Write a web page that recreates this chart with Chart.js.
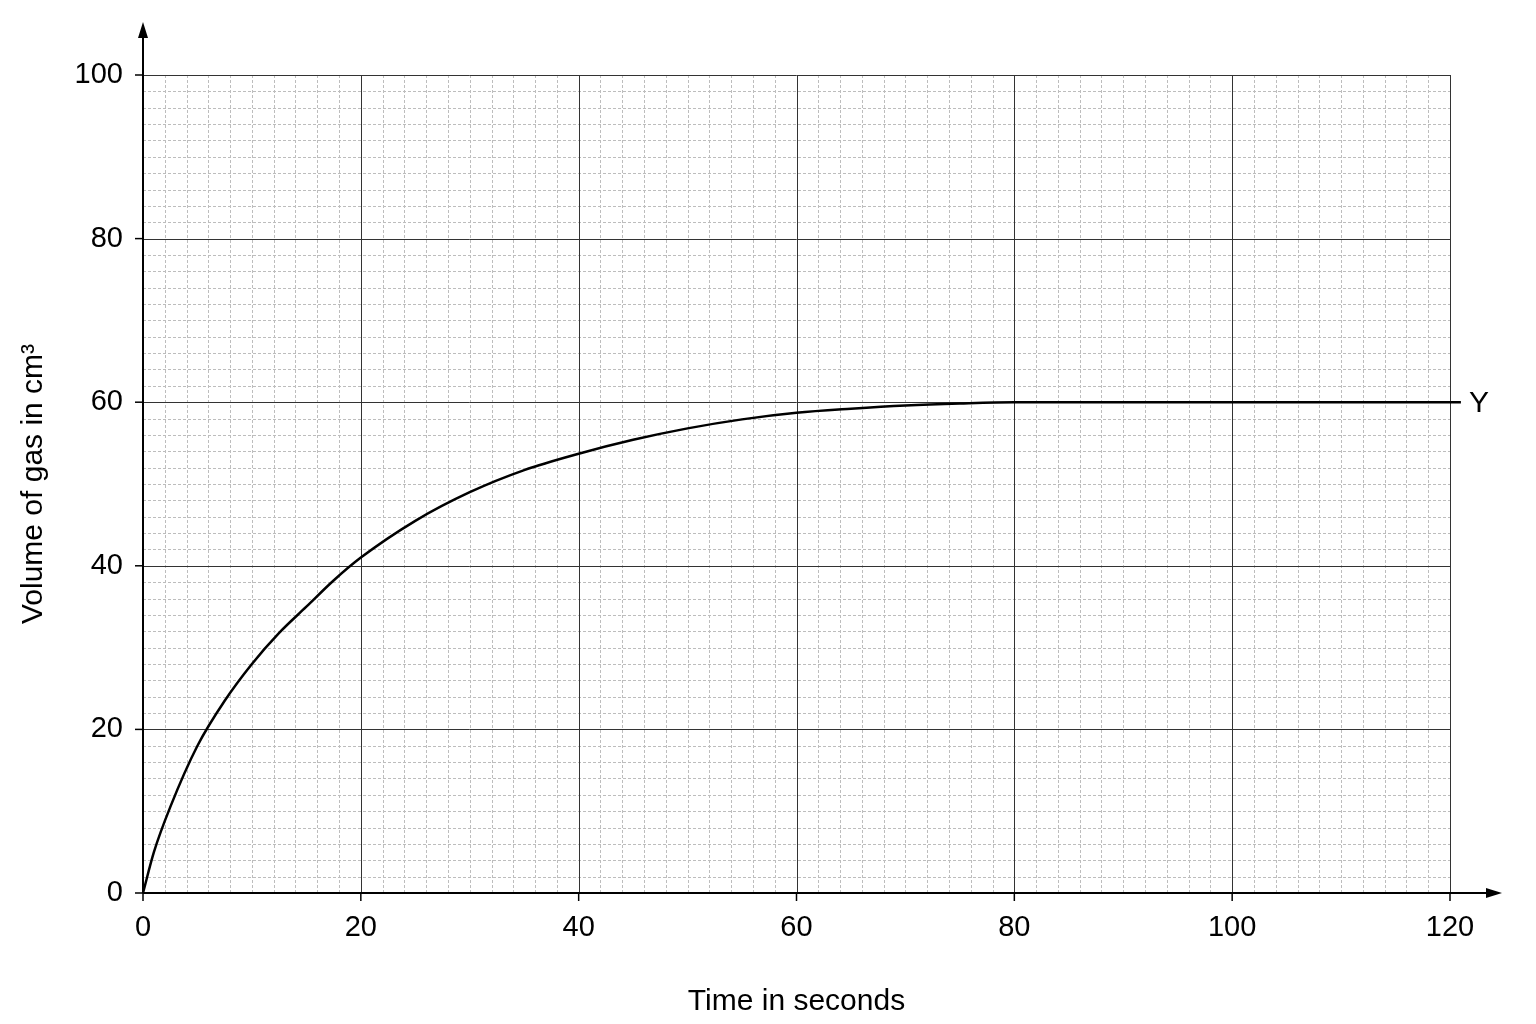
<!DOCTYPE html>
<html><head><meta charset="utf-8">
<script src="https://cdn.jsdelivr.net/npm/chart.js@4"></script>
<style>html,body{margin:0;padding:0;background:#fff}#w{width:1536px;height:1024px}</style>
</head><body><div id="w"><canvas id="c"></canvas></div>
<script>
const timeValues = [0, 1, 2.5, 5, 7.5, 10, 12.5, 15, 17.5, 20, 25, 30, 35, 40, 45, 50, 55, 60, 65, 70, 75, 80, 90, 100, 110, 121];
const volumeValues = [0, 5, 10.5, 18, 23.5, 28, 31.8, 35, 38.2, 41, 45.5, 49, 51.7, 53.7, 55.4, 56.8, 57.9, 58.7, 59.2, 59.6, 59.85, 60, 60, 60, 60, 60];
const xTicks = [0, 20, 40, 60, 80, 100, 120];
const yTicks = [0, 20, 40, 60, 80, 100];
const yTitle = 'Volume of gas in cm³';
const xTitle = 'Time in seconds';
const endLabel = 'Y';

const FONT = 'Liberation Sans, Arial, sans-serif';
const gridPlugin = {
  id: 'paper',
  beforeDatasetsDraw(chart) {
    const {ctx, chartArea: a, scales: {x, y}} = chart;
    ctx.save();
    ctx.lineWidth = 1;
    ctx.strokeStyle = '#bdbdbd';
    ctx.setLineDash([3, 2]);
    for (let v = 2; v < 120; v += 2) {
      if (v % 20 === 0) continue;
      const p = Math.round(x.getPixelForValue(v)) + 0.5;
      ctx.beginPath(); ctx.moveTo(p, a.top); ctx.lineTo(p, a.bottom); ctx.stroke();
    }
    for (let v = 2; v < 100; v += 2) {
      if (v % 20 === 0) continue;
      const p = Math.round(y.getPixelForValue(v)) + 0.5;
      ctx.beginPath(); ctx.moveTo(a.left, p); ctx.lineTo(a.right, p); ctx.stroke();
    }
    ctx.setLineDash([]);
    ctx.strokeStyle = '#333';
    ctx.lineWidth = 1;
    xTicks.forEach(v => { if (v === 0) return; const p = Math.round(x.getPixelForValue(v)) + 0.5;
      ctx.beginPath(); ctx.moveTo(p, a.top); ctx.lineTo(p, a.bottom); ctx.stroke(); });
    yTicks.forEach(v => { if (v === 0) return; const p = Math.round(y.getPixelForValue(v)) + 0.5;
      ctx.beginPath(); ctx.moveTo(a.left, p); ctx.lineTo(a.right, p); ctx.stroke(); });
    ctx.strokeStyle = '#000'; ctx.fillStyle = '#000'; ctx.lineWidth = 2;
    const x0 = x.getPixelForValue(0), y0 = y.getPixelForValue(0);
    ctx.beginPath(); ctx.moveTo(x0, y0); ctx.lineTo(x0, 32); ctx.stroke();
    ctx.beginPath(); ctx.moveTo(x0, 22); ctx.lineTo(x0 - 5, 38); ctx.lineTo(x0 + 5, 38); ctx.closePath(); ctx.fill();
    ctx.beginPath(); ctx.moveTo(x0, y0); ctx.lineTo(1492, y0); ctx.stroke();
    ctx.beginPath(); ctx.moveTo(1502, y0); ctx.lineTo(1486, y0 - 5); ctx.lineTo(1486, y0 + 5); ctx.closePath(); ctx.fill();
    ctx.lineWidth = 1.5;
    xTicks.forEach(v => { const p = x.getPixelForValue(v); ctx.beginPath(); ctx.moveTo(p, y0); ctx.lineTo(p, y0 + 8); ctx.stroke(); });
    yTicks.forEach(v => { const p = y.getPixelForValue(v); ctx.beginPath(); ctx.moveTo(x0 - 8, p); ctx.lineTo(x0, p); ctx.stroke(); });
    ctx.restore();
  },
  afterDatasetsDraw(chart) {
    const {ctx, scales: {x, y}} = chart;
    ctx.save(); ctx.fillStyle = '#000'; ctx.font = '30px ' + FONT; ctx.textBaseline = 'middle';
    ctx.fillText(endLabel, x.getPixelForValue(121) + 8, y.getPixelForValue(60) + 2);
    ctx.restore();
  }
};

new Chart(document.getElementById('c'), {
  type: 'line',
  data: { datasets: [{ data: timeValues.map((t, i) => ({x: t, y: volumeValues[i]})),
    borderColor: '#000', borderWidth: 2.5, pointRadius: 0, cubicInterpolationMode: 'monotone', clip: false }] },
  options: {
    responsive: true, maintainAspectRatio: false, animation: false,
    layout: { padding: { top: 75, right: 86, left: 0, bottom: 0 } },
    plugins: { legend: { display: false }, tooltip: { enabled: false } },
    scales: {
      x: { type: 'linear', min: 0, max: 120,
        afterBuildTicks: s => { s.ticks = xTicks.map(v => ({value: v})); },
        afterFit: s => { s.height = 131; },
        grid: { display: false }, border: { display: false },
        ticks: { color: '#000', font: { size: 29, family: FONT }, padding: 10, maxRotation: 0 },
        title: { display: true, text: xTitle, color: '#000', font: { size: 30, family: FONT }, padding: { top: 6 } } },
      y: { min: 0, max: 100,
        afterBuildTicks: s => { s.ticks = yTicks.map(v => ({value: v})); },
        afterFit: s => { s.width = 143; },
        grid: { display: false }, border: { display: false },
        ticks: { color: '#000', font: { size: 29, family: FONT }, padding: 12 },
        title: { display: true, text: yTitle, color: '#000', font: { size: 30, family: FONT }, padding: { top: 16, bottom: 8 } } }
    }
  },
  plugins: [gridPlugin]
});
</script></body></html>
